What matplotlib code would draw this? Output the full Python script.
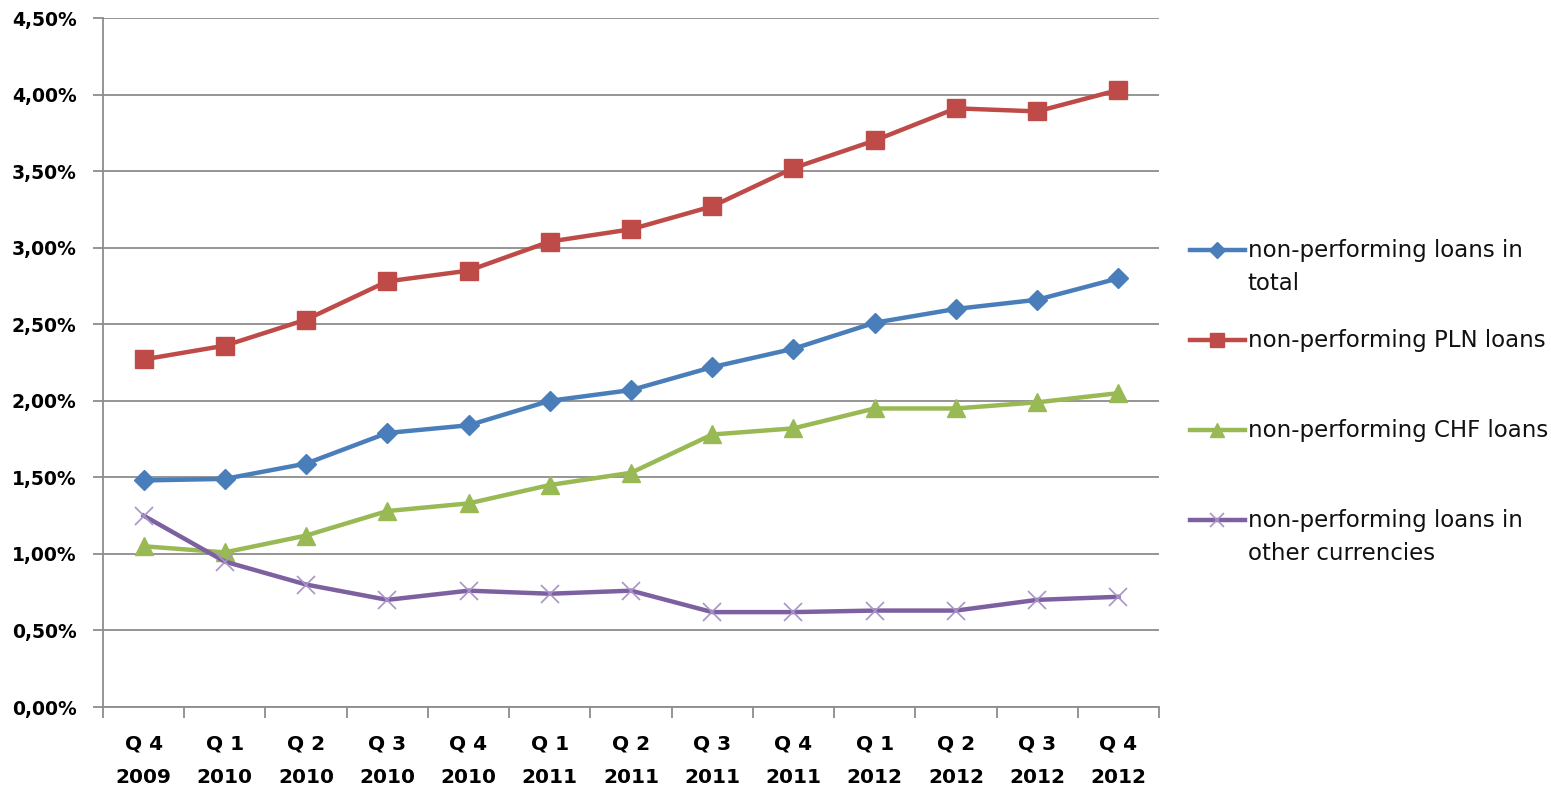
import matplotlib
matplotlib.use("Agg")
import matplotlib.pyplot as plt
from matplotlib.lines import Line2D
from matplotlib.ticker import FuncFormatter

quarters = ["Q 4\n2009", "Q 1\n2010", "Q 2\n2010", "Q 3\n2010", "Q 4\n2010",
            "Q 1\n2011", "Q 2\n2011", "Q 3\n2011", "Q 4\n2011",
            "Q 1\n2012", "Q 2\n2012", "Q 3\n2012", "Q 4\n2012"]

total = [1.48, 1.49, 1.59, 1.79, 1.84, 2.00, 2.07, 2.22, 2.34, 2.51, 2.60, 2.66, 2.80]
pln = [2.27, 2.36, 2.53, 2.78, 2.85, 3.04, 3.12, 3.27, 3.52, 3.70, 3.91, 3.89, 4.03]
chf = [1.05, 1.01, 1.12, 1.28, 1.33, 1.45, 1.53, 1.78, 1.82, 1.95, 1.95, 1.99, 2.05]
other = [1.25, 0.95, 0.80, 0.70, 0.76, 0.74, 0.76, 0.62, 0.62, 0.63, 0.63, 0.70, 0.72]

labels = ["non-performing loans in\ntotal", "non-performing PLN loans",
          "non-performing CHF loans", "non-performing loans in\nother currencies"]

fig = plt.figure(figsize=(15.51, 7.93), dpi=100)
ax = fig.add_axes([0.0664, 0.1084, 0.6809, 0.8689])

x = list(range(len(quarters)))
styles = [
    dict(color="#4a7ebb", marker="D", ms=10),
    dict(color="#be4b48", marker="s", ms=13),
    dict(color="#98b954", marker="^", ms=13),
    dict(color="#7d60a0", marker="x", ms=13, mew=1.2, mec="#a993c8"),
]
for vals, st in zip([total, pln, chf, other], styles):
    ax.plot(x, vals, lw=3.2, **st)

ax.set_xlim(-0.5, len(quarters) - 0.5)
ax.set_ylim(0, 4.5)
ax.set_yticks([i * 0.5 for i in range(10)])
ax.yaxis.set_major_formatter(FuncFormatter(lambda v, p: f"{v:.2f}%".replace(".", ",")))
ax.yaxis.grid(True, color="#8c8c8c", lw=1.3)
ax.set_axisbelow(True)

ax.set_xticks(x)
ax.set_xticklabels(quarters, fontsize=14.5, fontweight="bold", linespacing=1.95)
ax.set_xticks([i - 0.5 for i in range(len(quarters) + 1)], minor=True)
ax.tick_params(axis="x", which="major", length=0, pad=20)
ax.tick_params(axis="x", which="minor", length=8, width=1.3, color="#8c8c8c")
ax.tick_params(axis="y", length=7, width=1.3, color="#8c8c8c", labelsize=13.5, pad=12)
for t in ax.get_yticklabels():
    t.set_fontweight("bold")

for s in ["top", "right"]:
    ax.spines[s].set_visible(False)
for s in ["left", "bottom"]:
    ax.spines[s].set_color("#8c8c8c")
    ax.spines[s].set_linewidth(1.3)

# legend drawn by hand so the handle lines up with the first text line
y0, step, line_h = 0.663, 0.1306, 0.048
for i, (lab, st) in enumerate(zip(labels, styles)):
    y = y0 - i * step
    st_leg = dict(st)
    st_leg["ms"] = st["ms"] * 0.8
    ax.add_line(Line2D([1.029, 1.055, 1.081], [y, y, y], lw=3.2, transform=ax.transAxes,
                       clip_on=False, markevery=[1], **st_leg))
    for j, part in enumerate(lab.split("\n")):
        ax.text(1.084, y - j * line_h, part, transform=ax.transAxes, fontsize=16.5,
                va="center", ha="left", color="#111111")

fig.savefig("out.png", dpi=100)
